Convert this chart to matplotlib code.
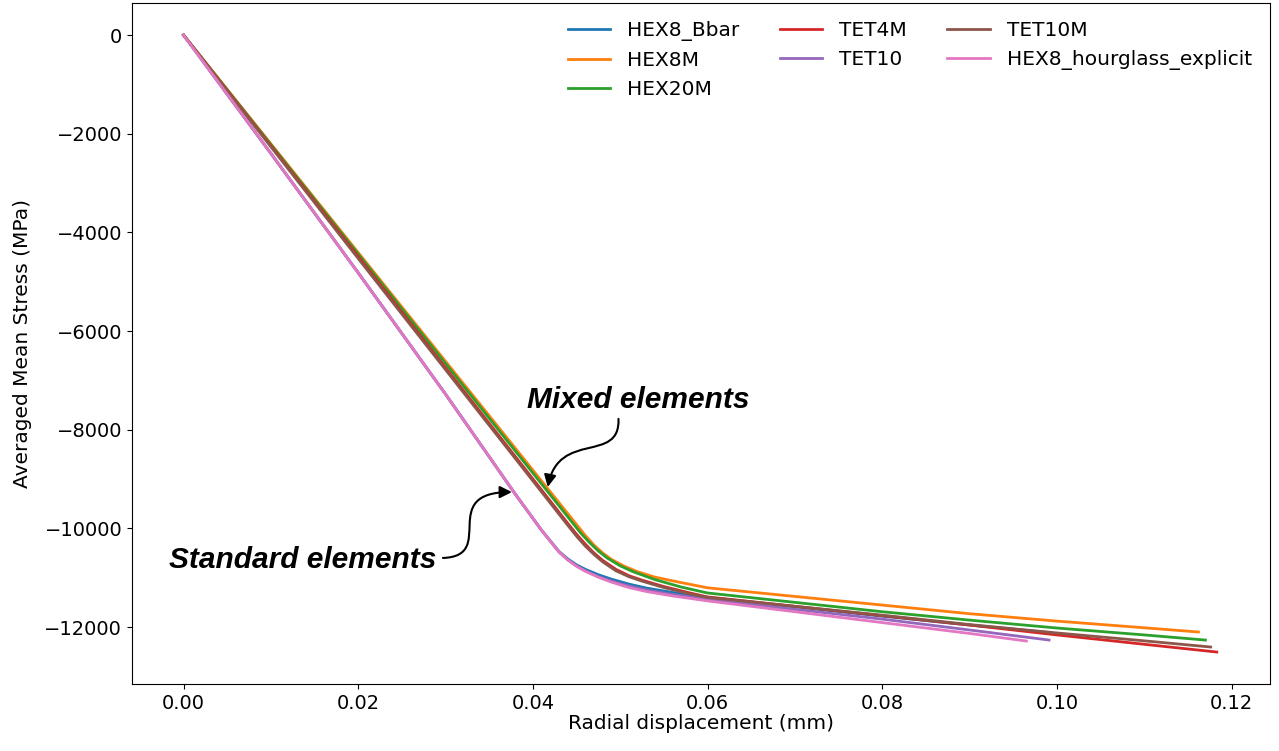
import matplotlib
matplotlib.use("Agg")
import matplotlib.pyplot as plt
from matplotlib.path import Path
from matplotlib.patches import FancyArrowPatch

# radial displacement (mm) vs averaged mean stress (MPa)
hex8_bbar_x = [0, 0.01, 0.02, 0.03, 0.038, 0.041, 0.043, 0.044, 0.045, 0.046, 0.0475, 0.049, 0.051,
               0.053, 0.056, 0.060, 0.070, 0.080, 0.090, 0.099]
hex8_bbar_y = [0, -2400, -4820, -7280, -9310, -10040, -10470, -10620, -10740, -10830, -10940, -11030, -11130,
               -11210, -11300, -11400, -11590, -11780, -11960, -12110]

hex8m_x = [0, 0.02, 0.046, 0.047, 0.048, 0.049, 0.0505, 0.052, 0.054, 0.057, 0.060, 0.070, 0.080,
           0.090, 0.100, 0.110, 0.1162]
hex8m_y = [0, -4410, -10143, -10340, -10500, -10630, -10770, -10880, -10990, -11100, -11205, -11380, -11555,
           -11730, -11880, -12015, -12101]

hex20m_x = [0, 0.02, 0.0455, 0.0465, 0.0475, 0.0485, 0.050, 0.0515, 0.054, 0.057, 0.060, 0.070, 0.080,
            0.090, 0.100, 0.110, 0.117]
hex20m_y = [0, -4440, -10100, -10290, -10460, -10600, -10760, -10880, -11040, -11190, -11310, -11500, -11690,
            -11860, -12020, -12160, -12264]

tet4m_x = [0, 0.02, 0.044, 0.045, 0.046, 0.047, 0.048, 0.0495, 0.051, 0.0525, 0.055, 0.058, 0.060,
           0.070, 0.080, 0.090, 0.100, 0.110, 0.1183]
tet4m_y = [0, -4490, -9900, -10120, -10320, -10500, -10650, -10830, -10960, -11050, -11180, -11310, -11390,
           -11580, -11770, -11960, -12160, -12350, -12507]

tet10_x = [0, 0.01, 0.02, 0.03, 0.038, 0.041, 0.043, 0.044, 0.045, 0.046, 0.0475, 0.049, 0.051,
           0.053, 0.056, 0.060, 0.070, 0.080, 0.090, 0.0991]
tet10_y = [0, -2400, -4820, -7280, -9310, -10040, -10480, -10640, -10760, -10860, -10980, -11070, -11170,
           -11250, -11340, -11440, -11640, -11840, -12060, -12264]

tet10m_x = [0, 0.02, 0.044, 0.045, 0.046, 0.047, 0.048, 0.0495, 0.051, 0.0525, 0.055, 0.058, 0.060,
            0.070, 0.080, 0.090, 0.100, 0.110, 0.1176]
tet10m_y = [0, -4530, -9940, -10160, -10360, -10530, -10680, -10860, -10980, -11070, -11200, -11330, -11400,
            -11580, -11760, -11950, -12120, -12280, -12405]

hourglass_x = [0, 0.01, 0.02, 0.03, 0.038, 0.041, 0.043, 0.044, 0.045, 0.046, 0.0475, 0.049, 0.051,
               0.053, 0.056, 0.060, 0.070, 0.080, 0.090, 0.0965]
hourglass_y = [0, -2400, -4820, -7280, -9310, -10040, -10480, -10640, -10770, -10870, -10990, -11090, -11200,
               -11280, -11370, -11470, -11690, -11910, -12130, -12284]

series = [
    ("HEX8_Bbar", hex8_bbar_x, hex8_bbar_y),
    ("HEX8M", hex8m_x, hex8m_y),
    ("HEX20M", hex20m_x, hex20m_y),
    ("TET4M", tet4m_x, tet4m_y),
    ("TET10", tet10_x, tet10_y),
    ("TET10M", tet10m_x, tet10m_y),
    ("HEX8_hourglass_explicit", hourglass_x, hourglass_y),
]

fig = plt.figure(figsize=(12.79, 7.51), dpi=100)
ax = fig.add_axes([0.1032, 0.0892, 0.8898, 0.9068])

for name, xs, ys in series:
    ax.plot(xs, ys, lw=2, label=name, solid_joinstyle="round")

ax.set_xlim(-0.0059, 0.1244)
ax.set_ylim(-13155, 649)
ax.set_xticks([0, 0.02, 0.04, 0.06, 0.08, 0.10, 0.12])
ax.set_yticks([0, -2000, -4000, -6000, -8000, -10000, -12000])
ax.tick_params(labelsize=14)
ax.set_xlabel("Radial displacement (mm)", fontsize=14.5, labelpad=1)
ax.set_ylabel("Averaged Mean Stress (MPa)", fontsize=14.5, labelpad=9)

ax.legend(ncol=3, frameon=False, fontsize=14.5, loc="upper right",
          handlelength=2.1, handletextpad=0.85, columnspacing=2.0)

# annotations
txt = dict(fontsize=21.5, fontweight="bold", fontstyle="italic", family="Liberation Sans")
ax.text(0.0521, -7400, "Mixed elements", ha="center", va="center", **txt)
ax.text(0.0136, -10640, "Standard elements", ha="center", va="center", **txt)

mixed_arrow = Path([(0.0498, -7780), (0.0500, -8700), (0.0430, -8000), (0.0417, -9162)],
                   [Path.MOVETO, Path.CURVE4, Path.CURVE4, Path.CURVE4])
ax.add_patch(FancyArrowPatch(path=mixed_arrow, arrowstyle="-|>", mutation_scale=18,
                             color="black", lw=1.5))
std_arrow = Path([(0.0297, -10600), (0.0360, -10560), (0.0290, -9270), (0.0376, -9264)],
                 [Path.MOVETO, Path.CURVE4, Path.CURVE4, Path.CURVE4])
ax.add_patch(FancyArrowPatch(path=std_arrow, arrowstyle="-|>", mutation_scale=18,
                             color="black", lw=1.5))

plt.savefig("out.png", dpi=100)
